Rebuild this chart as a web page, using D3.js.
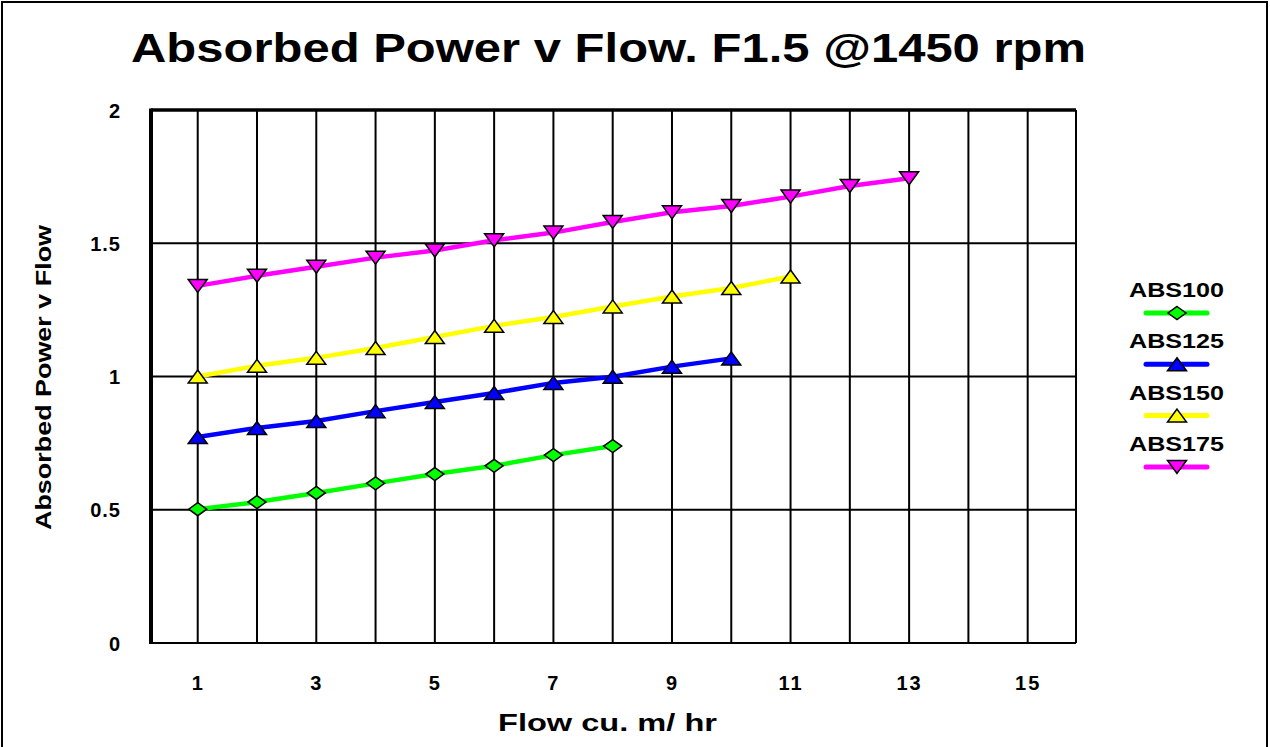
<!DOCTYPE html>
<html>
<head>
<meta charset="utf-8">
<script src="https://cdn.jsdelivr.net/npm/d3@7"></script>
<style>
    body { margin: 0; background: #fff; }
    #chart { width: 1270px; height: 747px; }
    text { font-family: "Liberation Sans", Arial, sans-serif; font-weight: bold; fill: #000; }
</style>
</head>
<body>
<div id="chart"></div>
<script>
// data
var flow = [1, 2, 3, 4, 5, 6, 7, 8, 9, 10, 11, 12, 13];
var abs100 = [0.502, 0.529, 0.563, 0.599, 0.634, 0.665, 0.705, 0.739];
var abs125 = [0.773, 0.807, 0.833, 0.870, 0.904, 0.938, 0.976, 0.999, 1.037, 1.068];
var abs150 = [1.0, 1.04, 1.07, 1.107, 1.148, 1.19, 1.223, 1.263, 1.300, 1.332, 1.375];
var abs175 = [1.34, 1.378, 1.412, 1.446, 1.473, 1.511, 1.54, 1.58, 1.616, 1.64, 1.675, 1.715, 1.744];

var seriesNames = ['ABS100', 'ABS125', 'ABS150', 'ABS175'];
var xGrid = [1, 2, 3, 4, 5, 6, 7, 8, 9, 10, 11, 12, 13, 14, 15];
var xTicks = [1, 3, 5, 7, 9, 11, 13, 15];
var yTicks = [0, 0.5, 1, 1.5, 2];

var series = [
    { name: seriesNames[0], values: abs100, color: '#00ff00', marker: 'diamond' },
    { name: seriesNames[1], values: abs125, color: '#0000ff', marker: 'up' },
    { name: seriesNames[2], values: abs150, color: '#ffff00', marker: 'up' },
    { name: seriesNames[3], values: abs175, color: '#ff00ff', marker: 'down' }
];

var width = 1270, height = 747;
// plot box (note: "top" is taken by window.top)
var plotLeft = 151, plotRight = 1076, plotTop = 110, plotBottom = 643;

var svg = d3.select('#chart')
    .append('svg')
        .attr('width', width)
        .attr('height', height)
;

// outer frame
svg.append('rect')
    .attr('x', 2).attr('y', 2)
    .attr('width', 1265).attr('height', 760)
    .style('fill', 'none')
    .style('stroke', '#000')
    .style('stroke-width', 2)
;

var x = d3.scaleLinear()
    .domain([0.212, 15.815])
    .range([plotLeft, plotRight])
;
var y = d3.scaleLinear()
    .domain([0, 2])
    .range([plotBottom, plotTop])
;

// grid
svg.append('g')
    .selectAll('line')
    .data(xGrid)
    .enter().append('line')
        .attr('x1', function(d) { return x(d); })
        .attr('x2', function(d) { return x(d); })
        .attr('y1', plotTop)
        .attr('y2', plotBottom)
        .style('stroke', '#000')
        .style('stroke-width', 2)
;
svg.append('g')
    .selectAll('line')
    .data(yTicks)
    .enter().append('line')
        .attr('x1', plotLeft)
        .attr('x2', plotRight)
        .attr('y1', function(d) { return y(d); })
        .attr('y2', function(d) { return y(d); })
        .style('stroke', '#000')
        .style('stroke-width', 2)
;

// plot frame: heavy top + left, thin right
svg.append('line').attr('x1', plotLeft).attr('x2', plotRight).attr('y1', plotTop).attr('y2', plotTop)
    .style('stroke', '#000').style('stroke-width', 3.5);
svg.append('line').attr('x1', plotLeft).attr('x2', plotLeft).attr('y1', plotTop - 1.5).attr('y2', plotBottom + 1)
    .style('stroke', '#000').style('stroke-width', 4);
svg.append('line').attr('x1', plotRight).attr('x2', plotRight).attr('y1', plotTop).attr('y2', plotBottom)
    .style('stroke', '#000').style('stroke-width', 2);

// axes (labels only)
var xAxis = svg.append('g')
    .attr('transform', 'translate(0,' + (plotBottom + 40) + ')')
    .call(d3.axisBottom(x).tickValues(xTicks).tickSize(0).tickFormat(d3.format('d')))
;
xAxis.select('.domain').remove();
xAxis.selectAll('text')
    .attr('dy', '0.35em')
    .attr('y', 0)
    .style('font-size', '20px')
    .style('letter-spacing', '2px')
;

var yAxis = svg.append('g')
    .attr('transform', 'translate(121,0)')
    .call(d3.axisLeft(y).tickValues(yTicks).tickSize(0).tickFormat(function(d) { return d; }))
;
yAxis.select('.domain').remove();
yAxis.selectAll('text')
    .attr('x', 0)
    .attr('dy', '0.36em')
    .style('font-size', '20px')
    .style('letter-spacing', '1px')
;

// markers
function markerPath(type) {
    if (type == 'diamond') return 'M0,-6.5L9,0L0,6.5L-9,0Z';
    if (type == 'up') return 'M0,-6.5L9.5,6.5L-9.5,6.5Z';
    return 'M0,6.5L9.5,-6.5L-9.5,-6.5Z';
}

var line = d3.line()
    .x(function(d, i) { return x(flow[i]); })
    .y(function(d) { return y(d); })
;

var lines = svg.append('g');
series.forEach(function(s) {
    lines.append('path')
        .datum(s.values)
        .attr('d', line)
        .style('fill', 'none')
        .style('stroke', s.color)
        .style('stroke-width', 4.5)
    ;
});
series.forEach(function(s) {
    lines.append('g')
        .selectAll('path')
        .data(s.values)
        .enter().append('path')
            .attr('transform', function(d, i) { return 'translate(' + x(flow[i]) + ',' + y(d) + ')'; })
            .attr('d', markerPath(s.marker))
            .style('fill', s.color)
            .style('stroke', '#000')
            .style('stroke-width', 1.5)
    ;
});

// title
svg.append('text')
    .attr('x', 131)
    .attr('y', 62)
    .attr('textLength', 955)
    .attr('lengthAdjust', 'spacingAndGlyphs')
    .style('font-size', '41px')
    .text('Absorbed Power v Flow. F1.5 @1450 rpm')
;

// axis titles
svg.append('text')
    .attr('x', 498)
    .attr('y', 731)
    .attr('textLength', 219)
    .attr('lengthAdjust', 'spacingAndGlyphs')
    .style('font-size', '23px')
    .text('Flow cu. m/ hr')
;
svg.append('text')
    .attr('transform', 'translate(51,530) rotate(-90)')
    .attr('textLength', 305)
    .attr('lengthAdjust', 'spacingAndGlyphs')
    .style('font-size', '22px')
    .text('Absorbed Power v Flow')
;

// legend
var legend = svg.append('g')
    .selectAll('g')
    .data(series)
    .enter().append('g')
        .attr('transform', function(d, i) { return 'translate(1176,' + (297 + i * 51.3) + ')'; })
;
legend.append('text')
    .attr('x', -47)
    .attr('y', 0)
    .attr('textLength', 95)
    .attr('lengthAdjust', 'spacingAndGlyphs')
    .style('font-size', '20px')
    .text(function(d) { return d.name; })
;
legend.append('line')
    .attr('x1', -30).attr('x2', 31)
    .attr('y1', 16).attr('y2', 16)
    .style('stroke', function(d) { return d.color; })
    .style('stroke-width', 5)
    .style('stroke-linecap', 'round')
;
legend.append('path')
    .attr('transform', 'translate(1,16)')
    .attr('d', function(d) { return markerPath(d.marker); })
    .style('fill', function(d) { return d.color; })
    .style('stroke', '#000')
    .style('stroke-width', 1.5)
;
</script>
</body>
</html>
